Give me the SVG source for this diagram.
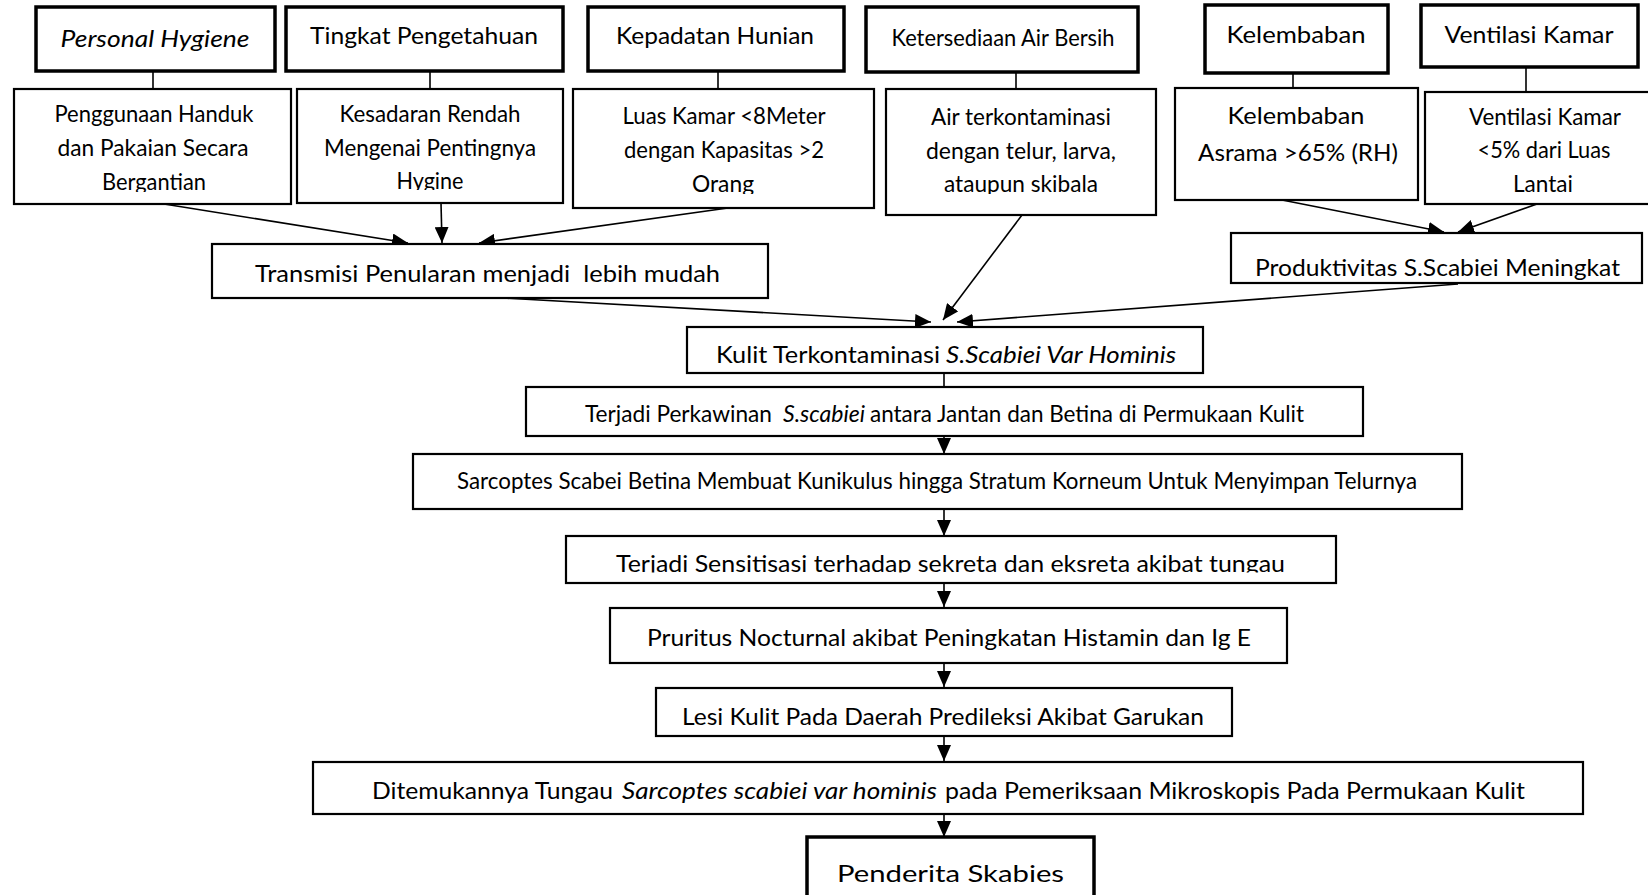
<svg xmlns="http://www.w3.org/2000/svg" width="1648" height="895" viewBox="0 0 1648 895">
<style>
.bg{fill:#fff}
.box{fill:#fff;stroke:#000;stroke-width:2.2}
.thick{stroke-width:3.5}
.t{font-family:Lato,"Open Sans",sans-serif;fill:#000;text-anchor:middle;font-size:24px}
.s{text-anchor:start}
.i{font-style:italic}
.c{stroke:#000;stroke-width:1.6;fill:none}
.a{marker-end:url(#arr)}
</style>
<defs>
<marker id="arr" markerUnits="userSpaceOnUse" markerWidth="16" markerHeight="14" refX="16" refY="7" orient="auto">
<path d="M0,0 L16,7 L0,14 z" fill="#000"/>
</marker>
<clipPath id="cp1"><rect x="14" y="89" width="277" height="103"/></clipPath>
<clipPath id="cp2"><rect x="297" y="89" width="266" height="101"/></clipPath>
<clipPath id="cp3"><rect x="573" y="89" width="301" height="105"/></clipPath>
<clipPath id="cp4"><rect x="886" y="89" width="270" height="105"/></clipPath>
<clipPath id="cp5"><rect x="566" y="536" width="770" height="36.5"/></clipPath>
</defs>
<rect class="bg" x="0" y="0" width="1648" height="895"/>

<g id="connectors">
<line class="c" x1="153" y1="71" x2="153" y2="89"/>
<line class="c" x1="430" y1="71" x2="430" y2="89"/>
<line class="c" x1="718" y1="71" x2="718" y2="89"/>
<line class="c" x1="1016" y1="72" x2="1016" y2="89"/>
<line class="c" x1="1293" y1="73" x2="1293" y2="88"/>
<line class="c" x1="1526" y1="67" x2="1526" y2="92"/>
<line class="c a" x1="164" y1="204" x2="408" y2="243"/>
<line class="c a" x1="441" y1="203" x2="442" y2="243"/>
<line class="c a" x1="735" y1="207" x2="479" y2="243"/>
<line class="c a" x1="1282" y1="200" x2="1444" y2="232"/>
<line class="c a" x1="1537" y1="204" x2="1458" y2="232"/>
<line class="c a" x1="504" y1="298" x2="931" y2="322"/>
<line class="c a" x1="1022" y1="215" x2="943" y2="320"/>
<line class="c a" x1="1458" y1="284" x2="957" y2="322"/>
<line class="c" x1="944" y1="373" x2="944" y2="387"/>
<line class="c a" x1="944" y1="436" x2="944" y2="454"/>
<line class="c a" x1="944" y1="509" x2="944" y2="536"/>
<line class="c a" x1="944" y1="583" x2="944" y2="607"/>
<line class="c a" x1="944" y1="663" x2="944" y2="687"/>
<line class="c a" x1="944" y1="736" x2="944" y2="761"/>
<line class="c a" x1="944" y1="814" x2="944" y2="837"/>
</g>

<g id="personal-hygiene">
<rect class="box thick" x="36" y="7" width="239" height="64"/>
<text class="t i" x="155" y="47" font-size="25" textLength="189" lengthAdjust="spacingAndGlyphs">Personal Hygiene</text>
</g>
<g id="tingkat-pengetahuan">
<rect class="box thick" x="286" y="7" width="277" height="64"/>
<text class="t" x="424" y="44" font-size="25" textLength="228" lengthAdjust="spacingAndGlyphs">Tingkat Pengetahuan</text>
</g>
<g id="kepadatan-hunian">
<rect class="box thick" x="588" y="7" width="256" height="64"/>
<text class="t" x="715" y="44" font-size="25" textLength="198" lengthAdjust="spacingAndGlyphs">Kepadatan Hunian</text>
</g>
<g id="ketersediaan-air">
<rect class="box thick" x="866" y="7" width="272" height="65"/>
<text class="t" x="1003" y="46" font-size="25" textLength="223" lengthAdjust="spacingAndGlyphs">Ketersediaan Air Bersih</text>
</g>
<g id="kelembaban">
<rect class="box thick" x="1205" y="5" width="183" height="68"/>
<text class="t" x="1296" y="43" font-size="25" textLength="139" lengthAdjust="spacingAndGlyphs">Kelembaban</text>
</g>
<g id="ventilasi-kamar">
<rect class="box thick" x="1421" y="5" width="217" height="62"/>
<text class="t" x="1529" y="43" font-size="25" textLength="169" lengthAdjust="spacingAndGlyphs">Ventilasi Kamar</text>
</g>

<g id="penggunaan-handuk">
<rect class="box" x="14" y="89" width="277" height="115"/>
<g clip-path="url(#cp1)">
<text class="t" x="154" y="122" textLength="199" lengthAdjust="spacingAndGlyphs">Penggunaan Handuk</text>
<text class="t" x="153" y="156" textLength="191" lengthAdjust="spacingAndGlyphs">dan Pakaian Secara</text>
<text class="t" x="154" y="190" textLength="104" lengthAdjust="spacingAndGlyphs">Bergantian</text>
</g>
</g>
<g id="kesadaran-rendah">
<rect class="box" x="297" y="89" width="266" height="114"/>
<g clip-path="url(#cp2)">
<text class="t" x="430" y="122" textLength="181" lengthAdjust="spacingAndGlyphs">Kesadaran Rendah</text>
<text class="t" x="430" y="156" textLength="212" lengthAdjust="spacingAndGlyphs">Mengenai Pentingnya</text>
<text class="t" x="430" y="188.5" textLength="67" lengthAdjust="spacingAndGlyphs">Hygine</text>
</g>
</g>
<g id="luas-kamar">
<rect class="box" x="573" y="89" width="301" height="119"/>
<g clip-path="url(#cp3)">
<text class="t" x="724" y="124" textLength="203" lengthAdjust="spacingAndGlyphs">Luas Kamar &lt;8Meter</text>
<text class="t" x="724" y="158" textLength="200" lengthAdjust="spacingAndGlyphs">dengan Kapasitas &gt;2</text>
<text class="t" x="723" y="192" textLength="62" lengthAdjust="spacingAndGlyphs">Orang</text>
</g>
</g>
<g id="air-terkontaminasi">
<rect class="box" x="886" y="89" width="270" height="126"/>
<g clip-path="url(#cp4)">
<text class="t" x="1021" y="125" textLength="180" lengthAdjust="spacingAndGlyphs">Air terkontaminasi</text>
<text class="t" x="1021" y="159" textLength="190" lengthAdjust="spacingAndGlyphs">dengan telur, larva,</text>
<text class="t" x="1021" y="192" textLength="154" lengthAdjust="spacingAndGlyphs">ataupun skibala</text>
</g>
</g>
<g id="kelembaban-asrama">
<rect class="box" x="1175" y="88" width="243" height="112"/>
<text class="t" x="1296" y="124" font-size="27" textLength="137" lengthAdjust="spacingAndGlyphs">Kelembaban</text>
<text class="t" x="1298" y="161" font-size="27" textLength="200" lengthAdjust="spacingAndGlyphs">Asrama &gt;65% (RH)</text>
</g>
<g id="ventilasi-luas">
<rect class="box" x="1425" y="92" width="240" height="112"/>
<text class="t" x="1545" y="125" textLength="152" lengthAdjust="spacingAndGlyphs">Ventilasi Kamar</text>
<text class="t" x="1544" y="158" textLength="133" lengthAdjust="spacingAndGlyphs">&lt;5% dari Luas</text>
<text class="t" x="1543" y="192" textLength="60" lengthAdjust="spacingAndGlyphs">Lantai</text>
</g>

<g id="transmisi">
<rect class="box" x="212" y="244" width="556" height="54"/>
<text class="t" x="487.5" y="282" font-size="25" xml:space="preserve" textLength="465" lengthAdjust="spacingAndGlyphs">Transmisi Penularan menjadi  lebih mudah</text>
</g>
<g id="produktivitas">
<rect class="box" x="1231" y="233" width="411" height="50"/>
<text class="t" x="1437.5" y="276" font-size="25" textLength="365" lengthAdjust="spacingAndGlyphs">Produktivitas S.Scabiei Meningkat</text>
</g>

<g id="kulit-terkontaminasi">
<rect class="box" x="687" y="327" width="516" height="46"/>
<text class="t s" x="716" y="363" font-size="25" textLength="224" lengthAdjust="spacingAndGlyphs">Kulit Terkontaminasi</text>
<text class="t s i" x="946" y="363" font-size="25" textLength="230" lengthAdjust="spacingAndGlyphs">S.Scabiei Var Hominis</text>
</g>
<g id="perkawinan">
<rect class="box" x="526" y="387" width="837" height="49"/>
<text class="t s" x="585" y="422" font-size="23" textLength="187" lengthAdjust="spacingAndGlyphs">Terjadi Perkawinan</text>
<text class="t s i" x="783" y="422" font-size="23" textLength="82" lengthAdjust="spacingAndGlyphs">S.scabiei</text>
<text class="t s" x="870" y="422" font-size="23" textLength="434" lengthAdjust="spacingAndGlyphs">antara Jantan dan Betina di Permukaan Kulit</text>
</g>
<g id="sarcoptes-betina">
<rect class="box" x="413" y="454" width="1049" height="55"/>
<text class="t" x="937" y="489" font-size="23.5" textLength="960" lengthAdjust="spacingAndGlyphs">Sarcoptes Scabei Betina Membuat Kunikulus hingga Stratum Korneum Untuk Menyimpan Telurnya</text>
</g>
<g id="sensitisasi">
<rect class="box" x="566" y="536" width="770" height="47"/>
<g clip-path="url(#cp5)">
<text class="t" x="950.5" y="572" font-size="25" textLength="669" lengthAdjust="spacingAndGlyphs">Terjadi Sensitisasi terhadap sekreta dan eksreta akibat tungau</text>
</g>
</g>
<g id="pruritus">
<rect class="box" x="610" y="608" width="677" height="55"/>
<text class="t" x="949" y="646" font-size="25" textLength="604" lengthAdjust="spacingAndGlyphs">Pruritus Nocturnal akibat Peningkatan Histamin dan Ig E</text>
</g>
<g id="lesi-kulit">
<rect class="box" x="656" y="688" width="576" height="48"/>
<text class="t" x="943" y="725" font-size="25" textLength="522" lengthAdjust="spacingAndGlyphs">Lesi Kulit Pada Daerah Predileksi Akibat Garukan</text>
</g>
<g id="ditemukan-tungau">
<rect class="box" x="313" y="762" width="1270" height="52"/>
<text class="t s" x="372" y="799" font-size="25" textLength="241" lengthAdjust="spacingAndGlyphs">Ditemukannya Tungau</text>
<text class="t s i" x="622" y="799" font-size="25" textLength="315" lengthAdjust="spacingAndGlyphs">Sarcoptes scabiei var hominis</text>
<text class="t s" x="945" y="799" font-size="25" textLength="580" lengthAdjust="spacingAndGlyphs">pada Pemeriksaan Mikroskopis Pada Permukaan Kulit</text>
</g>
<g id="penderita-skabies">
<rect class="box thick" x="807" y="837" width="287" height="80"/>
<text class="t" x="950.5" y="882" font-size="31" textLength="227" lengthAdjust="spacingAndGlyphs">Penderita Skabies</text>
</g>
</svg>
